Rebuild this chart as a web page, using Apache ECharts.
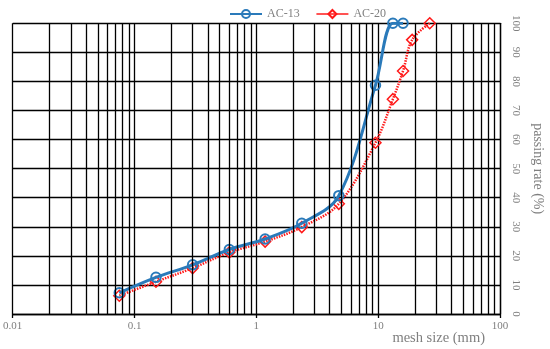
<!DOCTYPE html>
<html><head><meta charset="utf-8">
<script src="https://cdn.jsdelivr.net/npm/echarts@6/dist/echarts.min.js"></script>
<style>html,body{margin:0;padding:0;background:#fff}#c{width:550px;height:349px}</style>
</head><body><div id="c"></div>
<script>
const sieveSizes = [0.075, 0.15, 0.3, 0.6, 1.18, 2.36, 4.75, 9.5, 13.2, 16, 19, 26.5];
const ac13 = [7.3, 12.6, 16.9, 22.2, 25.8, 31.2, 40.7, 78.7, 100, 100];
const ac20 = [6.3, 11.1, 15.8, 21.2, 24.9, 29.9, 37.9, 58.9, 73.9, 83.6, 94.3, 100];
const xTickLabels = ['0.01', '0.1', '1', '10', '100'];
const yTicks = [0, 10, 20, 30, 40, 50, 60, 70, 80, 90, 100];

const minorX = [];
[0.01, 0.1, 1, 10].forEach(d => { for (let k = 2; k <= 9; k++) minorX.push(+(d * k).toPrecision(3)); });

const gray = '#7f7f7f';
const font = '"Liberation Serif", "Times New Roman", serif';
const blue = '#2a7aba';
const red = '#ff1a1a';

const chart = echarts.init(document.getElementById('c'));
chart.setOption({
  animation: false,
  backgroundColor: '#fff',
  textStyle: { fontFamily: font },
  legend: {
    top: 3, left: 224, itemWidth: 32, itemHeight: 10, itemGap: 16,
    textStyle: { color: gray, fontSize: 12, fontFamily: font },
    data: [
      { name: 'AC-13' },
      { name: 'AC-20', lineStyle: { type: 'solid', width: 1.5 } }
    ]
  },
  grid: { left: 12.7, right: 50, top: 23.3, bottom: 35, outerBoundsMode: 'none', containLabel: false },
  xAxis: {
    type: 'log', logBase: 10, min: 0.01, max: 100,
    axisLine: { show: true, lineStyle: { color: '#000', width: 1.3 } },
    axisTick: { show: true, length: 4, lineStyle: { color: '#000', width: 1.3 } },
    splitLine: { show: true, lineStyle: { color: '#000', width: 1.3 } },
    axisLabel: {
      color: gray, fontSize: 11, fontFamily: font, margin: 7,
      formatter: v => { const i = Math.round(Math.log10(v)) + 2; return xTickLabels[i] !== undefined ? xTickLabels[i] : ''; }
    }
  },
  yAxis: {
    type: 'value', position: 'right', min: 0, max: 100, interval: 10,
    axisLine: { show: true, lineStyle: { color: '#000', width: 1.3 } },
    axisTick: { show: false },
    splitLine: { show: true, lineStyle: { color: '#000', width: 1.3 } },
    axisLabel: { color: gray, fontSize: 11, fontFamily: font, rotate: -90, margin: 10,
      formatter: v => yTicks.includes(v) ? String(v) : '' },
    name: 'passing rate (%)', nameLocation: 'middle', nameRotate: -90, nameGap: 31,
    nameTextStyle: { color: gray, fontSize: 14, fontFamily: font }
  },
  graphic: [{
    type: 'text', right: 65, top: 331,
    style: { text: 'mesh size (mm)', fill: gray, font: '14.5px ' + font }
  }],
  series: [
    {
      name: 'grid-minor', type: 'line', data: [], silent: true, z: 1,
      markLine: {
        silent: true, symbol: ['none', 'none'], animation: false,
        label: { show: false },
        lineStyle: { color: '#000', width: 1.3, type: 'solid' },
        emphasis: { disabled: true },
        data: minorX.map(v => ({ xAxis: v }))
      }
    },
    {
      name: 'AC-13', type: 'line', z: 4, smooth: 0.35,
      data: ac13.map((v, i) => [sieveSizes[i], v]),
      symbol: 'circle', symbolSize: 9.5,
      lineStyle: { color: blue, width: 3 },
      itemStyle: { color: 'rgba(255,255,255,0)', borderColor: blue, borderWidth: 2 }
    },
    {
      name: 'AC-20', type: 'line', z: 3, smooth: 0.35,
      data: ac20.map((v, i) => [sieveSizes[i], v]),
      symbol: 'diamond', symbolSize: 11,
      lineStyle: { color: red, width: 2.5, type: [1.5, 1.2] },
      itemStyle: { color: 'rgba(255,255,255,0)', borderColor: red, borderWidth: 1.5 }
    }
  ]
});
</script></body></html>
